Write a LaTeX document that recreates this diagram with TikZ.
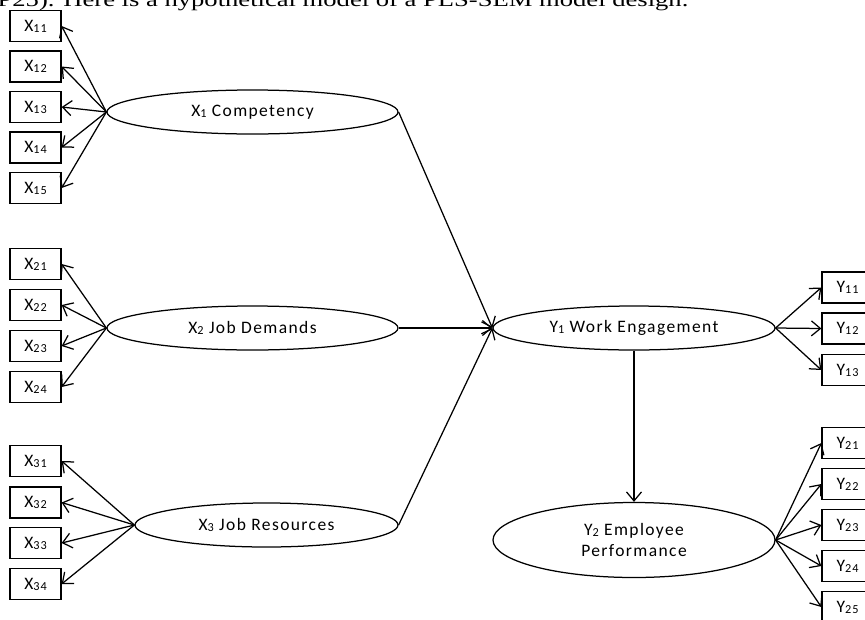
\documentclass[tikz,border=0pt]{standalone}
\usepackage{fontspec}
\setmainfont[LetterSpace=8]{Carlito}
\newfontfamily\headfont[FakeStretch=1.33]{Liberation Serif}
\usetikzlibrary{shapes.geometric,arrows.meta}
\tikzset{indicator/.style={draw,rectangle,minimum width=51pt,minimum height=31pt,inner sep=0pt,font=\fontsize{17.5}{20}\selectfont}}
\tikzset{construct/.style={draw,ellipse,inner sep=0pt,minimum height=44pt,align=center,font=\fontsize{17.5}{21}\selectfont}}
\newcommand{\idx}[1]{\raisebox{-1pt}{\scalebox{0.7}{#1}}}

\begin{document}
\begin{tikzpicture}[x=1pt,y=-1pt,line width=1.25pt,>={Straight Barb[length=9pt,width=15pt]}]
	    \useasboundingbox (0,0) rectangle (865,619);
	    \clip (0,0) rectangle (865,619);
	    \node[anchor=base west,inner sep=0pt,font=\headfont\fontsize{20}{24}\selectfont] (caption) at (-3,6.7) {P25). Here is a hypothetical model of a PLS-SEM model design.};
	    % constructs
	    \node[construct,minimum width=291pt] (x1) at (252.5,112) {X\idx{1} Competency};
	    \node[construct,minimum width=291pt] (x2) at (252.5,328) {X\idx{2} Job Demands};
	    \node[construct,minimum width=263pt] (x3) at (266.5,525) {X\idx{3} Job Resources};
	    \node[construct,minimum width=282pt] (y1) at (634,328) {Y\idx{1} Work Engagement};
	    \node[construct,minimum width=282pt,minimum height=75pt] (y2) at (634,540) {Y\idx{2} Employee\\Performance};
	    % indicators
	    \node[indicator] (x11) at (35.5,26) {X\idx{11}};
	    \node[indicator] (x12) at (35.5,66.5) {X\idx{12}};
	    \node[indicator] (x13) at (35.5,107) {X\idx{13}};
	    \node[indicator] (x14) at (35.5,147.5) {X\idx{14}};
	    \node[indicator] (x15) at (35.5,188) {X\idx{15}};
	    \node[indicator] (x21) at (35.5,264) {X\idx{21}};
	    \node[indicator] (x22) at (35.5,305) {X\idx{22}};
	    \node[indicator] (x23) at (35.5,346) {X\idx{23}};
	    \node[indicator] (x24) at (35.5,387) {X\idx{24}};
	    \node[indicator] (x31) at (35.5,461) {X\idx{31}};
	    \node[indicator] (x32) at (35.5,502.5) {X\idx{32}};
	    \node[indicator] (x33) at (35.5,543) {X\idx{33}};
	    \node[indicator] (x34) at (35.5,584) {X\idx{34}};
	    \node[indicator] (y11) at (847.5,287.5) {Y\idx{11}};
	    \node[indicator] (y12) at (847.5,328.5) {Y\idx{12}};
	    \node[indicator] (y13) at (847.5,370) {Y\idx{13}};
	    \node[indicator] (y21) at (847.5,443) {Y\idx{21}};
	    \node[indicator] (y22) at (847.5,484) {Y\idx{22}};
	    \node[indicator] (y23) at (847.5,525) {Y\idx{23}};
	    \node[indicator] (y24) at (847.5,566) {Y\idx{24}};
	    \node[indicator] (y25) at (847.5,607) {Y\idx{25}};
	    % loadings
	    \draw[->] (x1.west) -- (x11.east);
	    \draw[->] (x1.west) -- (x12.east);
	    \draw[->] (x1.west) -- (x13.east);
	    \draw[->] (x1.west) -- (x14.east);
	    \draw[->] (x1.west) -- (x15.east);
	    \draw[->] (x2.west) -- (x21.east);
	    \draw[->] (x2.west) -- (x22.east);
	    \draw[->] (x2.west) -- (x23.east);
	    \draw[->] (x2.west) -- (x24.east);
	    \draw[->] (x3.west) -- (x31.east);
	    \draw[->] (x3.west) -- (x32.east);
	    \draw[->] (x3.west) -- (x33.east);
	    \draw[->] (x3.west) -- (x34.east);
	    \draw[->] (y1.east) -- (y11.west);
	    \draw[->] (y1.east) -- (y12.west);
	    \draw[->] (y1.east) -- (y13.west);
	    \draw[->] (y2.east) -- (y21.west);
	    \draw[->] (y2.east) -- (y22.west);
	    \draw[->] (y2.east) -- (y23.west);
	    \draw[->] (y2.east) -- (y24.west);
	    \draw[->] (y2.east) -- (y25.west);
	    % paths
	    \draw[->] (x1.east) -- (y1.west);
	    \draw[->] (x2.east) -- (y1.west);
	    \draw[->] (x3.east) -- (y1.west);
	    \draw[->] (y1.south) -- (y2.north);
\end{tikzpicture}
\end{document}
